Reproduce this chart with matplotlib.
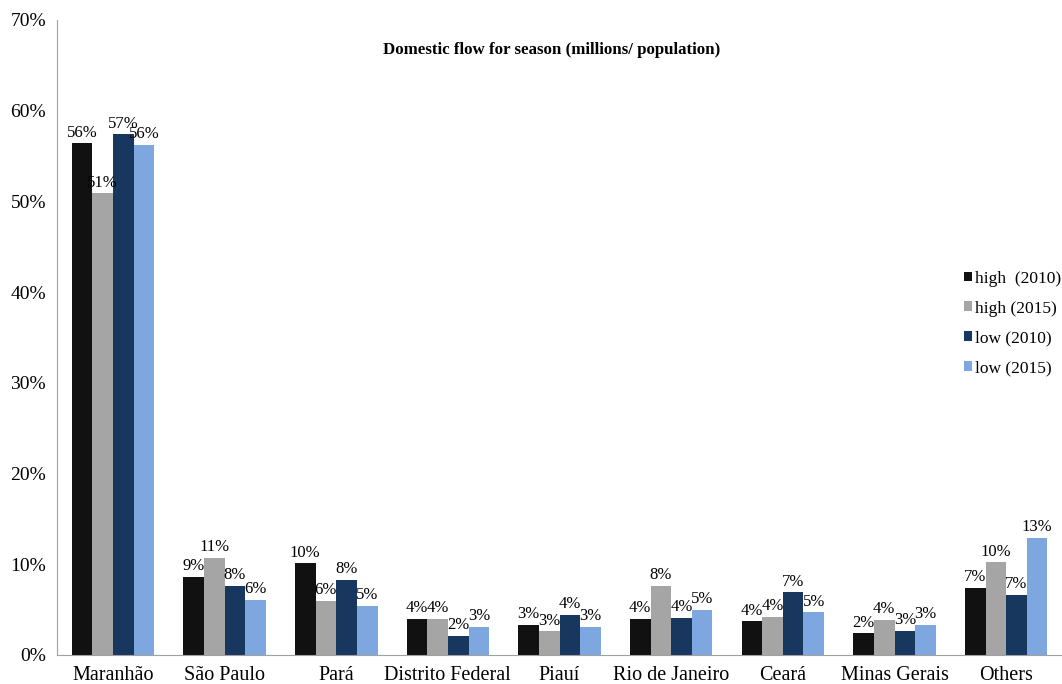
import matplotlib
matplotlib.use("Agg")
import matplotlib.pyplot as plt
import numpy as np

# datos (porcentaje)
estados = ["Maranhão", "São Paulo", "Pará", "Distrito Federal", "Piauí",
           "Rio de Janeiro", "Ceará", "Minas Gerais", "Others"]
high_2010 = [56.4, 8.6, 10.1, 4.0, 3.3, 4.0, 3.7, 2.4, 7.4]
high_2015 = [50.9, 10.7, 6.0, 4.0, 2.6, 7.6, 4.2, 3.9, 10.2]
low_2010 = [57.4, 7.6, 8.3, 2.1, 4.4, 4.1, 6.9, 2.7, 6.6]
low_2015 = [56.2, 6.1, 5.4, 3.1, 3.1, 5.0, 4.7, 3.3, 12.9]
series = ["high  (2010)", "high (2015)", "low (2010)", "low (2015)"]
colores = ["#111111", "#a5a5a5", "#17375e", "#7ea7df"]

plt.rcParams["font.family"] = ["Liberation Serif", "DejaVu Serif"]

fig = plt.figure(figsize=(10.62, 6.84), dpi=100)
ax = fig.add_axes([0.0537, 0.0424, 0.9463, 0.9284])

x = np.arange(len(estados))
w = 0.185
datos = [high_2010, high_2015, low_2010, low_2015]
for i, (vals, nombre, c) in enumerate(zip(datos, series, colores)):
    pos = x + (i - 1.5) * w
    barras = ax.bar(pos, vals, width=w, color=c, label=nombre, zorder=2)
    for b, v in zip(barras, vals):
        ax.text(b.get_x() + b.get_width() / 2, v + 0.3, f"{round(v):d}%",
                ha="center", va="bottom", fontsize=12)

ax.set_xlim(-0.5, len(estados) - 0.5)
ax.set_ylim(0, 70)
ax.set_yticks(np.arange(0, 71, 10))
ax.set_yticklabels([f"{t}%" for t in range(0, 71, 10)], fontsize=14)
ax.set_xticks(x)
ax.set_xticklabels(estados, fontsize=14.5)
ax.tick_params(axis="both", length=0)
ax.tick_params(axis="x", pad=8)
ax.tick_params(axis="y", pad=8)

for s in ["top", "right"]:
    ax.spines[s].set_visible(False)
ax.spines["left"].set_color("#a0a0a0")
ax.spines["bottom"].set_color("#a0a0a0")

ax.text(0.492, 0.965, "Domestic flow for season (millions/ population)",
        transform=ax.transAxes, ha="center", va="top", fontsize=12.2,
        fontweight="bold")

ax.legend(loc="center left", bbox_to_anchor=(0.902, 0.522), frameon=False,
          fontsize=12.5, handlelength=0.5, handleheight=0.5, handletextpad=0.15,
          labelspacing=0.8, borderpad=0, borderaxespad=0)

fig.savefig("out.png", dpi=100)
